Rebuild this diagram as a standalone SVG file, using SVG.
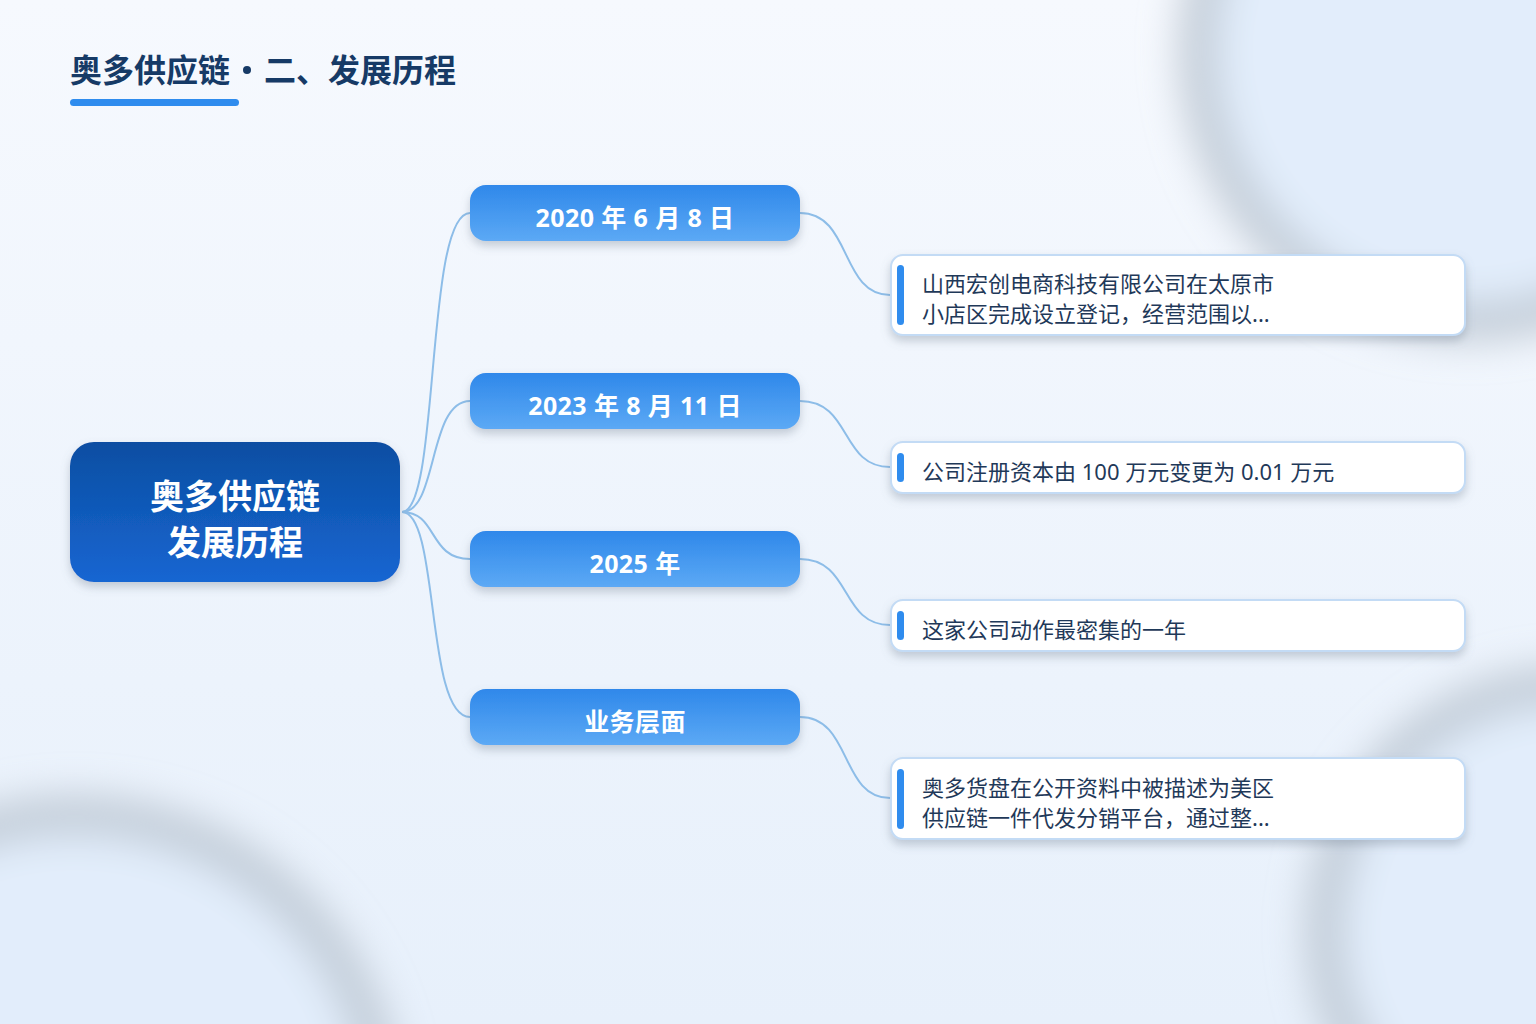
<svg xmlns="http://www.w3.org/2000/svg" width="1536" height="1024" viewBox="0 0 1536 1024">
<defs>
<linearGradient id="bg" x1="0" y1="0" x2="0" y2="1">
<stop offset="0" stop-color="#f6f9fe"/>
<stop offset="1" stop-color="#e7f0fb"/>
</linearGradient>
<linearGradient id="rootG" x1="0" y1="0" x2="0" y2="1">
<stop offset="0" stop-color="#0c4ea2"/>
<stop offset="1" stop-color="#1666d2"/>
</linearGradient>
<linearGradient id="brG" x1="0" y1="0" x2="0" y2="1">
<stop offset="0" stop-color="#2f88ea"/>
<stop offset="1" stop-color="#5ca9f5"/>
</linearGradient>
<filter id="ringBlur" x="-50%" y="-50%" width="200%" height="200%">
<feGaussianBlur stdDeviation="19"/>
</filter>
<filter id="sh" x="-10%" y="-20%" width="120%" height="150%">
<feDropShadow dx="0" dy="5" stdDeviation="5" flood-color="#6a7a8c" flood-opacity="0.35"/>
</filter>
<style>
.conn{fill:none;stroke:#8dbde8;stroke-width:2}
.br{fill:url(#brG);filter:url(#sh)}
.brt{font-family:"Noto Sans","Noto Sans CJK SC",sans-serif;font-weight:700;font-size:25px;letter-spacing:0.4px;fill:#fff;text-anchor:middle}
.leaf{fill:#fff;stroke:#c3dbf5;stroke-width:2;filter:url(#sh)}
.bar{fill:#2f8cee}
.lt{font-family:"Noto Sans","Noto Sans CJK SC",sans-serif;font-size:22px;fill:#1f3959}
.ring{fill:#e2edfb;stroke:#b6c0cc;stroke-width:38;stroke-opacity:0.8;filter:url(#ringBlur)}
</style>
</defs>
<rect width="1536" height="1024" fill="url(#bg)"/>
<g id="background">
<circle class="ring" cx="1470" cy="50" r="272"/>
<circle class="ring" cx="1570" cy="930" r="245"/>
<circle class="ring" cx="75" cy="1125" r="310"/>
</g>
<g id="title" font-family="'Noto Sans CJK SC','Noto Sans',sans-serif" font-weight="700" font-size="32" fill="#163a66">
<text x="70" y="82">奥多供应链</text>
<circle cx="247" cy="70" r="4"/>
<text x="264" y="82">二、发展历程</text>
<rect x="70" y="99" width="169" height="7" rx="3.5" fill="#2f8cee"/>
</g>
<g id="connectors">
<path class="conn" d="M402,512 C440,512 425,213 470,213"/>
<path class="conn" d="M402,512 C438,512 428,401 470,401"/>
<path class="conn" d="M402,512 C438,512 428,559 470,559"/>
<path class="conn" d="M402,512 C440,512 425,717 470,717"/>
<path class="conn" d="M800,213 C852,213 840,295 890,295"/>
<path class="conn" d="M800,401 C852,401 840,467 890,467"/>
<path class="conn" d="M800,559 C852,559 840,625 890,625"/>
<path class="conn" d="M800,717 C852,717 840,798 890,798"/>
</g>
<g id="root">
<rect x="70" y="442" width="330" height="140" rx="24" fill="url(#rootG)" filter="url(#sh)"/>
<text x="235" y="509" font-family="'Noto Sans CJK SC','Noto Sans',sans-serif" font-weight="700" font-size="34" fill="#fff" text-anchor="middle">奥多供应链</text>
<text x="235" y="555" font-family="'Noto Sans CJK SC','Noto Sans',sans-serif" font-weight="700" font-size="34" fill="#fff" text-anchor="middle">发展历程</text>
</g>
<g id="branch1">
<rect class="br" x="470" y="185" width="330" height="56" rx="16"/>
<text class="brt" x="635" y="227">2020 年 6 月 8 日</text>
</g>
<g id="branch2">
<rect class="br" x="470" y="373" width="330" height="56" rx="16"/>
<text class="brt" x="635" y="415">2023 年 8 月 11 日</text>
</g>
<g id="branch3">
<rect class="br" x="470" y="531" width="330" height="56" rx="16"/>
<text class="brt" x="635" y="573">2025 年</text>
</g>
<g id="branch4">
<rect class="br" x="470" y="689" width="330" height="56" rx="16"/>
<text class="brt" x="635" y="731">业务层面</text>
</g>
<g id="leaf1">
<rect class="leaf" x="891" y="255" width="574" height="80" rx="12"/>
<rect class="bar" x="897" y="265" width="7" height="60" rx="3.5"/>
<text class="lt" x="922" y="292">山西宏创电商科技有限公司在太原市</text>
<text class="lt" x="922" y="322">小店区完成设立登记，经营范围以...</text>
</g>
<g id="leaf2">
<rect class="leaf" x="891" y="442" width="574" height="51" rx="12"/>
<rect class="bar" x="897" y="453" width="7" height="29" rx="3.5"/>
<text class="lt" x="922" y="480">公司注册资本由 100 万元变更为 0.01 万元</text>
</g>
<g id="leaf3">
<rect class="leaf" x="891" y="600" width="574" height="51" rx="12"/>
<rect class="bar" x="897" y="611" width="7" height="29" rx="3.5"/>
<text class="lt" x="922" y="638">这家公司动作最密集的一年</text>
</g>
<g id="leaf4">
<rect class="leaf" x="891" y="758" width="574" height="81" rx="12"/>
<rect class="bar" x="897" y="769" width="7" height="60" rx="3.5"/>
<text class="lt" x="922" y="796">奥多货盘在公开资料中被描述为美区</text>
<text class="lt" x="922" y="826">供应链一件代发分销平台，通过整...</text>
</g>
</svg>
